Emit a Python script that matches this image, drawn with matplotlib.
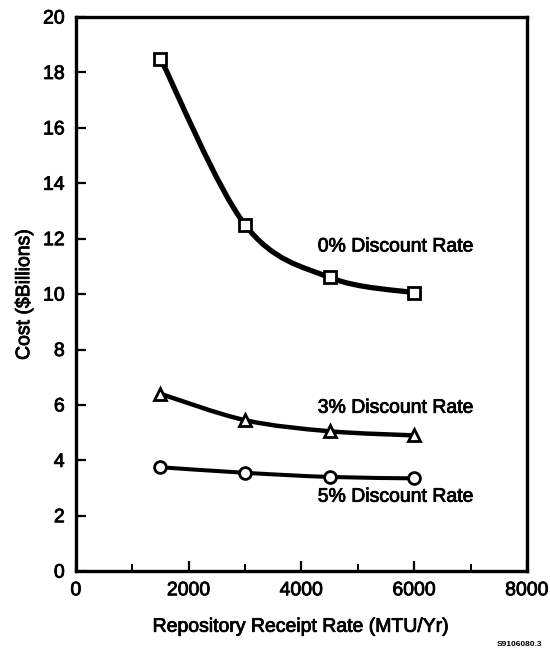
import numpy as np
import matplotlib.pyplot as plt
import matplotlib.patheffects as pe
from matplotlib.path import Path
from matplotlib.patches import PathPatch

plt.rcParams['font.family'] = ['Liberation Sans', 'DejaVu Sans']

# receipt rate (MTU/Yr)
rate = [1500, 3000, 4500, 6000]
# cost ($Billions) per discount rate
cost_0 = [18.5, 12.5, 10.6, 10.05]
cost_3 = [6.4, 5.45, 5.05, 4.9]
cost_5 = [3.75, 3.55, 3.4, 3.35]

labels = ["0% Discount Rate", "3% Discount Rate", "5% Discount Rate"]
label_pos = [(4290, 11.7), (4290, 5.88), (4290, 2.67)]

# a bit heavier text, like the scanned original
heavy = [pe.withStroke(linewidth=0.6, foreground='black')]


def smooth_path(xs, ys):
    # catmull-rom as cubic bezier segments, passes through the points
    pts = np.column_stack([np.asarray(xs, float), np.asarray(ys, float)])
    verts = [pts[0]]
    codes = [Path.MOVETO]
    n = len(pts)
    for i in range(n - 1):
        p0 = pts[i - 1] if i > 0 else pts[i]
        p1 = pts[i]
        p2 = pts[i + 1]
        p3 = pts[i + 2] if i + 2 < n else pts[i + 1]
        verts += [p1 + (p2 - p0) / 6, p2 - (p3 - p1) / 6, p2]
        codes += [Path.CURVE4] * 3
    return Path(verts, codes)


fig = plt.figure(figsize=(5.5, 6.55), dpi=100)
ax = fig.add_axes([0.138, 0.128, 0.82, 0.846])

series = [(cost_0, 's', 3.8), (cost_3, '^', 3.2), (cost_5, 'o', 2.9)]
for ys, mk, lw in series:
    ax.add_patch(PathPatch(smooth_path(rate, ys), fill=False, lw=lw,
                           color='black', capstyle='round', zorder=2))
    ax.plot(rate, ys, linestyle='none', marker=mk, markersize=8.5,
            markerfacecolor='white', markeredgecolor='black',
            markeredgewidth=2, zorder=3)

for txt, (x, y) in zip(labels, label_pos):
    ax.text(x, y, txt, fontsize=14, va='center', ha='left', path_effects=heavy)

ax.set_xlim(0, 8000)
ax.set_ylim(0, 20)
ax.set_xticks([0, 2000, 4000, 6000, 8000])
ax.set_xticks([1000, 3000, 5000, 7000], minor=True)
ax.set_yticks(np.arange(0, 21, 2))
ax.tick_params(axis='both', which='major', direction='in', length=7,
               width=1.6, labelsize=14, pad=8, top=False, right=False)
ax.tick_params(axis='x', which='minor', direction='in', length=5, width=1.4)
for lab in ax.get_xticklabels() + ax.get_yticklabels():
    lab.set_path_effects(heavy)
for s in ax.spines.values():
    s.set_linewidth(2.4)

ax.set_xlabel("Repository Receipt Rate (MTU/Yr)", fontsize=14, labelpad=14,
              path_effects=heavy)
ax.set_ylabel("Cost (\\$Billions)", fontsize=14, labelpad=7,
              path_effects=heavy)

fig.text(0.985, 0.01, "S9106080.3", fontsize=6, fontweight='bold',
         ha='right', va='bottom')

fig.savefig('out.png', dpi=100)
